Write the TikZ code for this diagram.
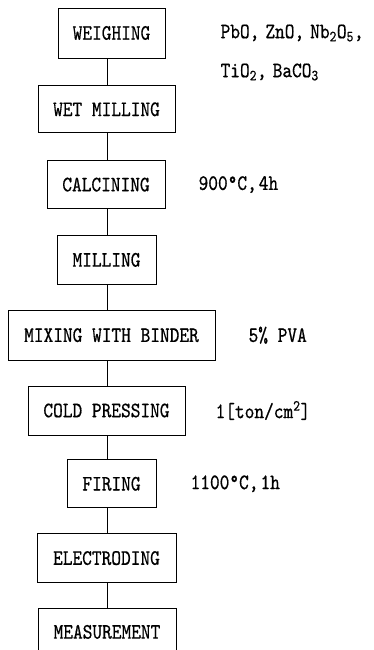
\documentclass[tikz,border=0pt]{standalone}
\usepackage{fontspec}
\newfontfamily\flowfont[FakeStretch=0.84, FakeBold=0.6]{lmmono10-regular.otf}
\newfontfamily\notefont[FakeStretch=0.84, FakeBold=0.6]{lmmono10-regular.otf}
\usetikzlibrary{positioning}

\begin{document}
\begin{tikzpicture}[x=1pt, y=-1pt,
      node distance=25pt and 33pt,
      box/.style={rectangle, draw=black, line width=0.8pt, inner sep=0pt,
                  font=\flowfont\fontsize{22}{24}\selectfont,
                  minimum height=49pt},
      note/.style={font=\notefont\fontsize{22}{24}\selectfont,
                   inner sep=0pt, anchor=west},
      link/.style={draw=black, line width=0.8pt},
      ]
    \useasboundingbox (0,0) rectangle (374,650);
    \coordinate (trunk) at (107,0);

    \node[box, minimum width=107pt, minimum height=50pt] (weigh) at (111.5,33) {WEIGHING};
    \node[box, minimum width=137pt, minimum height=47pt, below=27pt of weigh, xshift=-5pt] (wetmill) {WET MILLING};
    \node[box, minimum width=118pt, minimum height=48pt, below=27pt of wetmill, xshift=-0.5pt] (calc) {CALCINING};
    \node[box, minimum width=99pt, below=26pt of calc, xshift=0.5pt] (mill) {MILLING};
    \node[box, minimum width=207pt, minimum height=50pt, below=of mill, xshift=5pt] (mix) {MIXING WITH BINDER};
    \node[box, minimum width=157pt, below=of mix, xshift=-5pt] (press) {COLD PRESSING};
    \node[box, minimum width=89pt, minimum height=48pt, below=24pt of press, xshift=5pt] (fire) {FIRING};
    \node[box, minimum width=139pt, below=of fire, xshift=-5pt] (electrode) {ELECTRODING};
    \node[box, minimum width=138pt, minimum height=47pt, below=of electrode, xshift=0.5pt] (measure) {MEASUREMENT};

    \node[note, right=55pt of weigh] (oxides) {PbO,\hspace{6pt}ZnO,\hspace{6pt}Nb\textsubscript{2}O\textsubscript{5},};
    \node[note] (oxides2) at ([yshift=-39pt]oxides.west) {TiO\textsubscript{2},\hspace{6pt}BaCO\textsubscript{3}};
    \node[note, right=of calc] (calcnote) {900°C,\hspace{2pt}4h};
    \node[note, right=of mix] (binder) {5\% PVA};
    \node[note, right=30pt of press] (pressure) {1[ton/cm\textsuperscript{2}]};
    \node[note, right=34pt of fire] (firenote) {1100°C,\hspace{2pt}1h};

    \draw[link] (weigh.south -| trunk) -- (wetmill.north -| trunk);
    \draw[link] (wetmill.south -| trunk) -- (calc.north -| trunk);
    \draw[link] (calc.south -| trunk) -- (mill.north -| trunk);
    \draw[link] (mill.south -| trunk) -- (mix.north -| trunk);
    \draw[link] (mix.south -| trunk) -- (press.north -| trunk);
    \draw[link] (press.south -| trunk) -- (fire.north -| trunk);
    \draw[link] (fire.south -| trunk) -- (electrode.north -| trunk);
    \draw[link] (electrode.south -| trunk) -- (measure.north -| trunk);
  \end{tikzpicture}
\end{document}
